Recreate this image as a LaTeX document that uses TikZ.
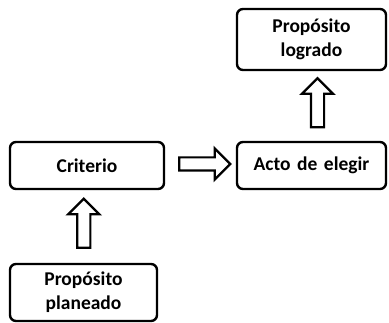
\documentclass[tikz,border=0pt]{standalone}
\usepackage{fontspec}
\setmainfont{Carlito}
\usetikzlibrary{shapes.arrows,calc}

\begin{document}
\begin{tikzpicture}[x=1pt,y=-1pt,
	box/.style={draw,line width=2.4pt,rounded corners=6pt,align=center,
		font=\fontsize{19.5}{24}\selectfont\bfseries,text width=#1,inner sep=0pt},
	fat/.style={single arrow,draw,line width=2.2pt,inner sep=5.5pt,
		minimum height=49pt,single arrow head extend=9pt,single arrow tip angle=90}]
	\useasboundingbox (0,0) rectangle (389,323);
	\node[box=149pt,minimum height=61pt] (logro) at (311.5,39.5) {Propósito\\logrado};
	\node[box=149pt,minimum height=47pt] (acto)  at (311.5,165.5) {Acto de elegir};
	\node[box=154pt,minimum height=47pt] (crit)  at (87,165.5) {Criterio};
	\node[box=147pt,minimum height=57pt] (plan)  at (83.5,292.5) {Propósito\\planeado};
	% flechas huecas entre cajas
	\node[fat,shape border rotate=90] (f_0) at ($(plan.north)!0.5!(crit.south)+(-1.5,0)$) {};
	\node[fat,minimum height=51pt] (f_1) at ($(crit.east)!0.5!(acto.west)+(1,-1.5)$) {};
	\node[fat,shape border rotate=90] (f_2) at ($(acto.north)!0.5!(logro.south)+(6,0)$) {};
\end{tikzpicture}
\end{document}
